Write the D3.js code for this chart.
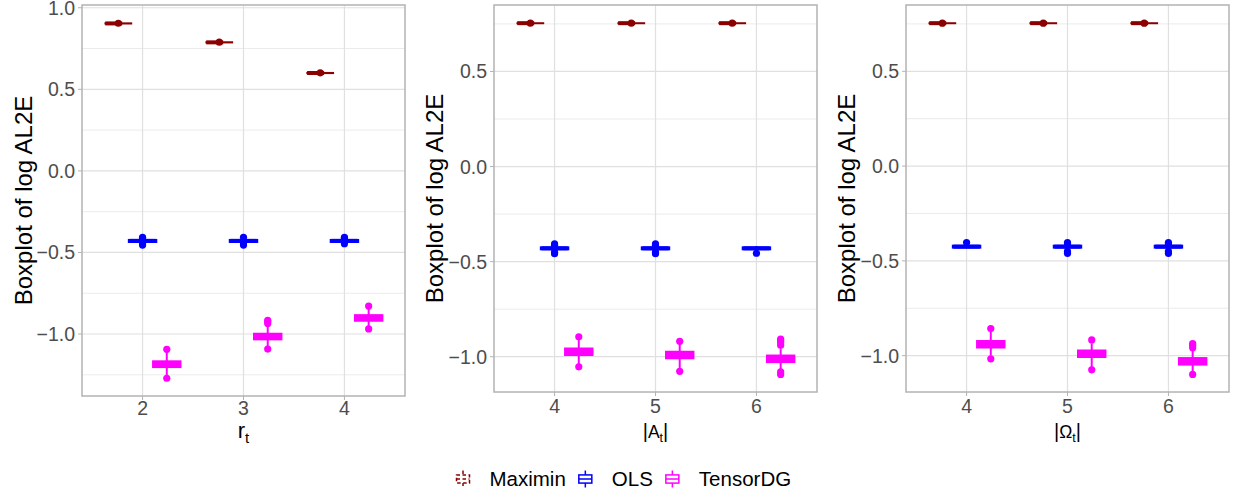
<!DOCTYPE html>
<html>
<head>
<meta charset="utf-8">
<script src="https://cdnjs.cloudflare.com/ajax/libs/d3/7.8.5/d3.min.js"></script>
<style>
  body { margin: 0; background: #ffffff; }
  text { font-family: "Liberation Sans", Arial, Helvetica, sans-serif; }
</style>
</head>
<body>
<div id="chart"></div>
<script>
var svgWidth = 1239;
var svgHeight = 492;

// methods (legend order) and colours
var methods = ["Maximin", "OLS", "TensorDG"];
var methodColors = ["#8B0000", "#0000FF", "#FF00FF"];

// x categories of each panel
var rtLevels = ["2", "3", "4"];
var aLevels = ["4", "5", "6"];
var omegaLevels = ["4", "5", "6"];

// y tick labels
var ticksPanel1 = [-1.0, -0.5, 0.0, 0.5, 1.0];
var ticksPanel23 = [-1.0, -0.5, 0.0, 0.5];

// box stats: [lower whisker, q1, median, q3, upper whisker], one row per level
// panel 1 : r_t
var rtMaximin = [[0.900, 0.902, 0.904, 0.906, 0.908], [0.784, 0.786, 0.788, 0.790, 0.792], [0.596, 0.598, 0.600, 0.602, 0.604]];
var rtMaximinOut = [[0.905], [0.789], [0.601]];
var rtOls = [[-0.436, -0.432, -0.429, -0.427, -0.422], [-0.436, -0.432, -0.429, -0.427, -0.422], [-0.436, -0.432, -0.429, -0.427, -0.422]];
var rtOlsOut = [[-0.407, -0.414, -0.446, -0.455], [-0.407, -0.446, -0.455], [-0.407, -0.414, -0.446]];
var rtTensor = [[-1.255, -1.199, -1.186, -1.171, -1.110], [-1.078, -1.029, -1.016, -1.002, -0.950], [-0.955, -0.915, -0.902, -0.888, -0.845]];
var rtTensorOut = [[-1.094, -1.271], [-0.916, -0.925, -0.935, -1.092], [-0.829, -0.969]];

// panel 2 : |A_t|
var aMaximin = [[0.751, 0.753, 0.754, 0.755, 0.757], [0.751, 0.753, 0.754, 0.755, 0.757], [0.751, 0.753, 0.754, 0.755, 0.757]];
var aMaximinOut = [[0.754], [0.754], [0.754]];
var aOls = [[-0.436, -0.432, -0.430, -0.428, -0.423], [-0.436, -0.432, -0.430, -0.428, -0.423], [-0.436, -0.432, -0.430, -0.428, -0.418]];
var aOlsOut = [[-0.407, -0.414, -0.450, -0.458], [-0.407, -0.414, -0.450, -0.458], [-0.456]];
var aTensor = [[-1.040, -0.988, -0.974, -0.960, -0.910], [-1.060, -1.005, -0.991, -0.977, -0.935], [-1.070, -1.025, -1.011, -0.997, -0.960]];
var aTensorOut = [[-0.895, -1.053], [-0.919, -1.077], [-0.907, -0.915, -0.925, -0.940, -1.080, -1.093]];

// panel 3 : |Omega_t|
var wMaximin = [[0.751, 0.753, 0.754, 0.755, 0.757], [0.751, 0.753, 0.754, 0.755, 0.757], [0.751, 0.753, 0.754, 0.755, 0.757]];
var wMaximinOut = [[0.754], [0.754], [0.754]];
var wOls = [[-0.432, -0.427, -0.425, -0.423, -0.418], [-0.432, -0.427, -0.425, -0.423, -0.418], [-0.432, -0.427, -0.425, -0.423, -0.418]];
var wOlsOut = [[-0.403], [-0.403, -0.410, -0.450, -0.460], [-0.403, -0.410, -0.450, -0.460]];
var wTensor = [[-1.000, -0.954, -0.940, -0.926, -0.875], [-1.060, -1.004, -0.990, -0.976, -0.935], [-1.085, -1.044, -1.030, -1.016, -0.970]];
var wTensorOut = [[-0.857, -1.017], [-0.917, -1.075], [-0.936, -0.945, -0.958, -1.099]];

var panels = [
  { levels: rtLevels, ticks: ticksPanel1, stats: [rtMaximin, rtOls, rtTensor], outs: [rtMaximinOut, rtOlsOut, rtTensorOut],
    left: 82, right: 405, top: 5, bottom: 396, ylabX: 32, tickBase: 415, title: "r" },
  { levels: aLevels, ticks: ticksPanel23, stats: [aMaximin, aOls, aTensor], outs: [aMaximinOut, aOlsOut, aTensorOut],
    left: 494, right: 817, top: 5, bottom: 392, ylabX: 443, tickBase: 413, title: "A" },
  { levels: omegaLevels, ticks: ticksPanel23, stats: [wMaximin, wOls, wTensor], outs: [wMaximinOut, wOlsOut, wTensorOut],
    left: 906, right: 1229, top: 5, bottom: 392, ylabX: 855, tickBase: 413, title: "\u03A9" }
];

var dodge = 0.24;
var boxWidth = 0.26;

var svg = d3.select("#chart")
  .append("svg")
  .attr("width", svgWidth)
  .attr("height", svgHeight);

svg.append("rect").attr("width", svgWidth).attr("height", svgHeight).attr("fill", "#ffffff");

function fmt(v) {
  return d3.format(".1f")(v).replace("-", "\u2212");
}

panels.forEach(function(p) {
  // y range from all values, expanded 5% like ggplot
  var all = [];
  p.stats.forEach(function(s) { s.forEach(function(r) { all = all.concat(r); }); });
  p.outs.forEach(function(s) { s.forEach(function(r) { all = all.concat(r); }); });
  var ext = d3.extent(all);
  var pad = (ext[1] - ext[0]) * 0.05;

  var yScale = d3.scaleLinear()
    .domain([ext[0] - pad, ext[1] + pad])
    .range([p.bottom, p.top]);

  var xScale = d3.scaleLinear()
    .domain([0.4, p.levels.length + 0.6])
    .range([p.left, p.right]);

  var g = svg.append("g");

  // minor gridlines
  var minors = [];
  for (var i = 0; i <= p.ticks.length; i++) {
    var m = (i === 0) ? p.ticks[0] - 0.25 : p.ticks[i - 1] + 0.25;
    if (m > yScale.domain()[0] && m < yScale.domain()[1]) minors.push(m);
  }
  g.selectAll(".minor")
    .data(minors)
    .enter()
    .append("line")
    .attr("x1", p.left).attr("x2", p.right)
    .attr("y1", d => yScale(d)).attr("y2", d => yScale(d))
    .attr("stroke", "#ebebeb")
    .attr("stroke-width", 1);

  // major gridlines
  g.selectAll(".major")
    .data(p.ticks)
    .enter()
    .append("line")
    .attr("x1", p.left).attr("x2", p.right)
    .attr("y1", d => yScale(d)).attr("y2", d => yScale(d))
    .attr("stroke", "#e0e0e0")
    .attr("stroke-width", 1.2);

  g.selectAll(".vgrid")
    .data(p.levels)
    .enter()
    .append("line")
    .attr("x1", (d, i) => xScale(i + 1)).attr("x2", (d, i) => xScale(i + 1))
    .attr("y1", p.top).attr("y2", p.bottom)
    .attr("stroke", "#e0e0e0")
    .attr("stroke-width", 1.2);

  // boxplots
  var w = xScale(boxWidth) - xScale(0);
  p.stats.forEach(function(s, mi) {
    var col = methodColors[mi];
    s.forEach(function(b, li) {
      var cx = xScale(li + 1 + (mi - 1) * dodge);
      // whiskers
      g.append("line")
        .attr("x1", cx).attr("x2", cx)
        .attr("y1", yScale(b[0])).attr("y2", yScale(b[4]))
        .attr("stroke", col).attr("stroke-width", 2);
      if (mi === 0) {
        // dashed box for Maximin
        g.append("rect")
          .attr("x", cx - w / 2).attr("y", yScale(b[3]))
          .attr("width", w).attr("height", Math.max(0.5, yScale(b[1]) - yScale(b[3])))
          .attr("fill", "#ffffff").attr("stroke", col).attr("stroke-width", 1.5);
        g.append("line")
          .attr("x1", cx - w / 2).attr("x2", cx + w / 2)
          .attr("y1", yScale(b[2])).attr("y2", yScale(b[2]))
          .attr("stroke", col).attr("stroke-width", 4)
          .attr("stroke-dasharray", "17,20");
      } else {
        g.append("rect")
          .attr("x", cx - w / 2).attr("y", yScale(b[3]))
          .attr("width", w).attr("height", yScale(b[1]) - yScale(b[3]))
          .attr("fill", "#ffffff").attr("stroke", col).attr("stroke-width", 3.2);
        g.append("line")
          .attr("x1", cx - w / 2).attr("x2", cx + w / 2)
          .attr("y1", yScale(b[2])).attr("y2", yScale(b[2]))
          .attr("stroke", col).attr("stroke-width", 4);
      }
      // outliers
      g.selectAll(null)
        .data(p.outs[mi][li])
        .enter()
        .append("circle")
        .attr("cx", cx)
        .attr("cy", d => yScale(d))
        .attr("r", 3.6)
        .attr("fill", col);
    });
  });

  // panel border
  g.append("rect")
    .attr("x", p.left).attr("y", p.top)
    .attr("width", p.right - p.left).attr("height", p.bottom - p.top)
    .attr("fill", "none")
    .attr("stroke", "#b3b3b3")
    .attr("stroke-width", 1.5);

  // y ticks + labels
  g.selectAll(".ytick")
    .data(p.ticks)
    .enter()
    .append("line")
    .attr("x1", p.left - 4).attr("x2", p.left)
    .attr("y1", d => yScale(d)).attr("y2", d => yScale(d))
    .attr("stroke", "#b3b3b3").attr("stroke-width", 1);

  g.selectAll(".ylab")
    .data(p.ticks)
    .enter()
    .append("text")
    .attr("x", p.left - 7)
    .attr("y", d => yScale(d))
    .attr("dy", "0.36em")
    .attr("text-anchor", "end")
    .attr("font-size", "19.5px")
    .attr("fill", "#4d4d4d")
    .text(d => fmt(d));

  // x ticks + labels
  g.selectAll(".xtick")
    .data(p.levels)
    .enter()
    .append("line")
    .attr("x1", (d, i) => xScale(i + 1)).attr("x2", (d, i) => xScale(i + 1))
    .attr("y1", p.bottom).attr("y2", p.bottom + 4)
    .attr("stroke", "#b3b3b3").attr("stroke-width", 1);

  g.selectAll(".xlab")
    .data(p.levels)
    .enter()
    .append("text")
    .attr("x", (d, i) => xScale(i + 1))
    .attr("y", p.tickBase)
    .attr("text-anchor", "middle")
    .attr("font-size", "19.5px")
    .attr("fill", "#4d4d4d")
    .text(d => d);

  // y axis title
  g.append("text")
    .attr("transform", `translate(${p.ylabX}, ${(p.top + p.bottom) / 2}) rotate(-90)`)
    .attr("text-anchor", "middle")
    .attr("font-size", "24px")
    .attr("fill", "#000000")
    .text("Boxplot of log AL2E");

  // x axis title
  var xt = g.append("text")
    .attr("x", (p.left + p.right) / 2)
    .attr("y", 438)
    .attr("text-anchor", "middle")
    .attr("fill", "#000000");
  if (p.title === "r") {
    xt.append("tspan").attr("font-size", "22px").text("r");
    xt.append("tspan").attr("font-size", "15px").attr("dy", 5).text("t");
  } else {
    xt.append("tspan").attr("font-size", "20px").text("|");
    xt.append("tspan").attr("font-size", "17.5px").text(p.title);
    xt.append("tspan").attr("font-size", "12.5px").attr("dy", 4).text("t");
    xt.append("tspan").attr("font-size", "20px").attr("dy", -4).text("|");
  }
});

// legend
var legend = svg.append("g");
var legendY = 479;
var keyW = 13, keyH = 17;
var cursor = 463;
methods.forEach(function(name, i) {
  var item = legend.append("g");
  var col = methodColors[i];
  var dash = (i === 0) ? "3.5,2.5" : null;
  item.append("line")
    .attr("x1", 0).attr("x2", 0)
    .attr("y1", -keyH / 2).attr("y2", keyH / 2)
    .attr("stroke", col).attr("stroke-width", 1.5)
    .attr("stroke-dasharray", dash);
  item.append("rect")
    .attr("x", -keyW / 2).attr("y", -keyH * 0.24)
    .attr("width", keyW).attr("height", keyH * 0.48)
    .attr("fill", "#ffffff").attr("stroke", col).attr("stroke-width", 1.5)
    .attr("stroke-dasharray", dash);
  item.append("line")
    .attr("x1", -keyW / 2).attr("x2", keyW / 2)
    .attr("y1", 0).attr("y2", 0)
    .attr("stroke", col).attr("stroke-width", 1.5)
    .attr("stroke-dasharray", dash);
  var t = item.append("text")
    .attr("x", 26.5)
    .attr("y", 0)
    .attr("dy", "0.36em")
    .attr("font-size", "20.5px")
    .attr("fill", "#000000")
    .text(name);
  var tw = t.node().getComputedTextLength();
  item.attr("transform", `translate(${cursor}, ${legendY})`);
  cursor += 26.5 + tw + 19.5;
});
</script>
</body>
</html>
